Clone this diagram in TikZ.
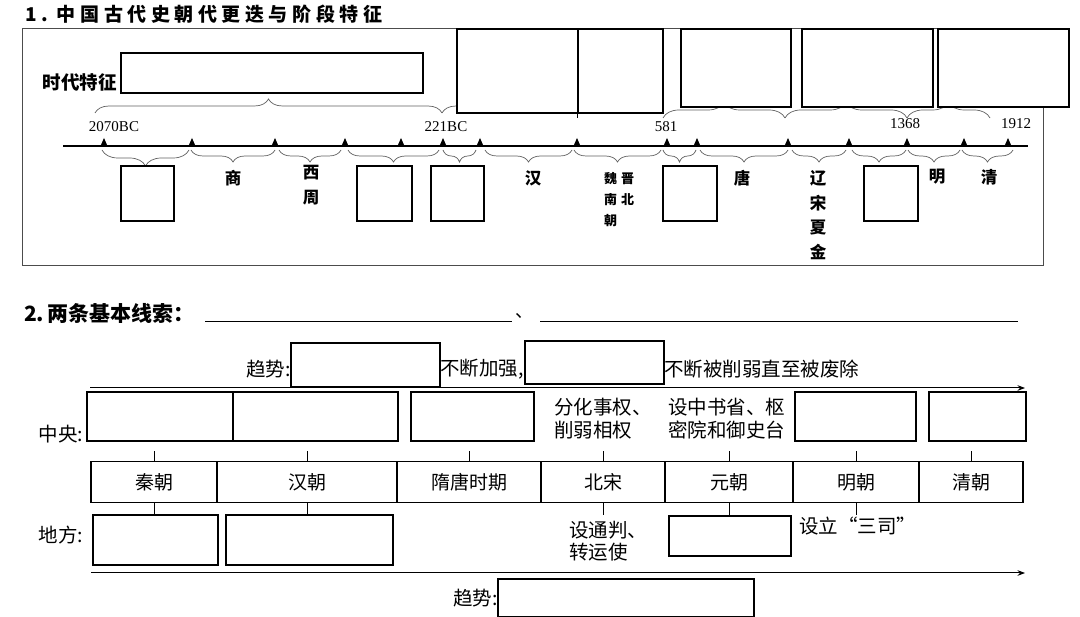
\documentclass[tikz,border=0pt]{standalone}
\usepackage{fontspec}
\setmainfont{Noto Sans CJK SC}
\newfontfamily\numfont{Liberation Serif}
\usetikzlibrary{arrows.meta,decorations.pathreplacing}

\begin{document}
\begin{tikzpicture}[x=1pt,y=-1pt,>=Stealth,
  blank/.style={draw,line width=1.2pt,fill=white},
  era/.style={font=\fontsize{16.5}{25}\selectfont\bfseries,inner sep=0pt,align=center},
  yr/.style={font=\numfont\fontsize{15}{15}\selectfont,inner sep=0pt},
  txt/.style={font=\fontsize{19.5}{22.5}\selectfont,inner sep=0pt,align=left},
  cell/.style={draw,line width=1.1pt,minimum height=41pt,inner sep=0pt,outer sep=0pt,font=\fontsize{19}{19}\selectfont},
  brc/.style={decorate,decoration={brace,amplitude=#1},draw=gray!75!black,line width=0.7pt},
  brc/.default=12]
\useasboundingbox (0,0) rectangle (1080,617);

% ---- part 1: timeline
\node[anchor=west,inner sep=0pt,font=\fontsize{19}{19}\selectfont\bfseries\addfontfeature{LetterSpace=24}] (title1) at (25,14) {1.\ 中国古代史朝代更迭与阶段特征};
\draw[gray!60!black,line width=0.8pt] (22,28) rectangle (1043,265);

\node[anchor=east,inner sep=0pt,font=\fontsize{18.5}{18}\selectfont\bfseries] (feat) at (117,82) {时代特征};
\draw[blank] (121,53) rectangle (423,93);

% braces above the axis (some hidden by the boxes)
\draw[brc=14] (95,113) -- (442,113);
\draw[brc=14] (442,113) -- (663,113);
\draw[brc=16] (663,118) -- (785,118);
\draw[brc=16] (785,118) -- (907,118);
\draw[brc=16] (907,118) -- (990,118);
\draw[line width=0.6pt] (577,113) -- (577,118);
\draw[blank] (457,29) rectangle (578,113);
\draw[blank] (578,29) rectangle (663,113);
\draw[blank] (681,29) rectangle (791,107);
\draw[blank] (802,29) rectangle (933,107);
\draw[blank] (938,29) rectangle (1069,107);

% axis
\draw[line width=1.6pt] (63,146) -- (1028,146);
\foreach \x in {104,192,275,345,401,443,480,577,667,697,788,849,907,964,1008}
  \fill (\x-3.5,146) -- (\x+3.5,146) -- (\x,138) -- cycle;

\node[yr] (y2070) at (114,127) {2070BC};
\node[yr] (y221) at (446,127) {221BC};
\node[yr] (y581) at (666,127) {581};
\node[yr] (y1368) at (905,124) {1368};
\node[yr] (y1912) at (1016,124) {1912};

% braces below the axis
\draw[brc=16] (189,150) -- (102,150);
\foreach \a/\b in {191/275,279/341,348/439,443/476,485/572,574/661,663/696,700/788,792/846,852/906,908/960,962/1013}
  \draw[brc] (\b,150) -- (\a,150);

\draw[blank] (121,166) rectangle (174,221);
\draw[blank] (357,166) rectangle (412,221);
\draw[blank] (431,166) rectangle (484,221);
\draw[blank] (663,166) rectangle (717,221);
\draw[blank] (864,166) rectangle (918,221);

\node[era] (shang) at (233,178) {商};
\node[era] (xizhou) at (311,185) {西\\周};
\node[era] (han) at (533,178) {汉};
\node[era,font=\fontsize{13}{21}\selectfont\bfseries,align=left,anchor=north west] (wjnbc) at (604,172) {魏\hspace{4pt}晋\\南\hspace{4pt}北\\朝};
\node[era] (tang) at (742,178) {唐};
\node[era,font=\fontsize{16.5}{24.5}\selectfont\bfseries] (lsxj) at (818,215) {辽\\宋\\夏\\金};
\node[era] (ming) at (937,177) {明};
\node[era] (qing) at (989,177) {清};

% ---- part 2: two clues
\node[anchor=west,inner sep=0pt,font=\fontsize{21}{21}\selectfont\bfseries] (title2) at (24,313) {2.\,两条基本线索：};
\draw[line width=1pt] (205,322) -- (512,322);
\node[inner sep=0pt,font=\fontsize{18}{18}\selectfont] (dun) at (524,316) {、};
\draw[line width=1pt] (540,322) -- (1018,322);

\node[txt,anchor=east] (trend1) at (291,369) {趋势:};
\draw[blank] (291,343) rectangle (440,387);
\node[txt,anchor=west] (jq) at (440,369) {不断加强,};
\draw[blank] (525,341) rectangle (664,384);
\node[txt,anchor=west] (xr) at (664,369) {不断被削弱直至被废除};
\draw[->,line width=1pt] (90,388) -- (1025,388);

\node[txt] (zy) at (61,434) {中央:};
\draw[blank] (87,392) rectangle (233,441);
\draw[blank] (233,392) rectangle (398,441);
\draw[blank] (411,392) rectangle (534,441);
\node[txt,anchor=north west] (bsz) at (554,398) {分化事权、\\削弱相权};
\node[txt,anchor=north west] (yz) at (668,398) {设中书省、枢\\密院和御史台};
\draw[blank] (795,392) rectangle (916,441);
\draw[blank] (929,392) rectangle (1026,441);

\node[cell,minimum width=126pt] (qin) at (154,482) {秦朝};
\node[cell,minimum width=180pt] (hanc) at (307,482) {汉朝};
\node[cell,minimum width=144pt] (st) at (469,482) {隋唐时期};
\node[cell,minimum width=124pt] (bs) at (603,482) {北宋};
\node[cell,minimum width=128pt] (yuan) at (729,482) {元朝};
\node[cell,minimum width=126pt] (mingc) at (856,482) {明朝};
\node[cell,minimum width=104pt] (qingc) at (971,482) {清朝};

\foreach \c in {qin,hanc,st,bs,yuan,mingc,qingc}
  \draw[line width=0.7pt] (\c.north) -- ++(0,-10);
\foreach \c in {qin,hanc,bs,yuan,mingc}
  \draw[line width=0.7pt] (\c.south) -- ++(0,13);

\node[txt] (df) at (61,535) {地方:};
\draw[blank] (93,515) rectangle (218,565);
\draw[blank] (226,515) rectangle (393,565);
\node[txt,anchor=north west] (tp) at (569,521) {设通判、\\转运使};
\draw[blank] (669,516) rectangle (791,556);
\node[txt,anchor=west] (ss) at (799,526) {设立“三司”};
\draw[->,line width=1pt] (91,573) -- (1025,573);

\node[txt,anchor=east] (trend2) at (498,598) {趋势:};
\draw[blank] (498,579) rectangle (754,616.4);
\end{tikzpicture}
\end{document}
